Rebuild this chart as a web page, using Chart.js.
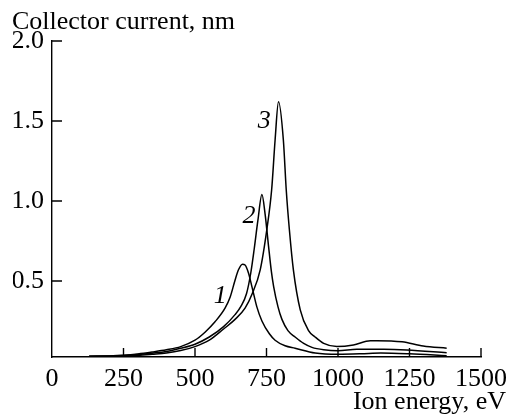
<!DOCTYPE html>
<html>
<head>
<meta charset="utf-8">
<script src="https://cdn.jsdelivr.net/npm/chart.js@4"></script>
<style>
  body { margin: 0; background: #fff; }
</style>
</head>
<body>
<canvas id="chart" width="509" height="418"></canvas>
<script>

// values (ion energy in eV, collector current in nm)
const energy1 = [130,200,250,300,350,400,450,500,535,570,605,623,640,652,666,675,687,699,716,734,760,780,815,850,920,1000,1080,1150,1250,1380]
const current1 = [.03,.032,.036,.044,.056,.07,.09,.13,.18,.245,.33,.40,.505,.57,.605,.60,.55,.465,.34,.25,.17,.13,.095,.08,.05,.042,.045,.05,.045,.033]

const energy2 = [130,200,250,300,350,400,450,500,550,600,640,660,680,695,707,720,734,745,757,767,775,790,804,825,850,880,909,950,1000,1066,1160,1240,1380]
const current2 = [.029,.031,.034,.04,.049,.06,.08,.105,.15,.215,.29,.34,.42,.55,.70,.88,1.04,.92,.72,.56,.465,.34,.26,.19,.15,.11,.085,.07,.064,.073,.073,.069,.052]

const energy3 = [130,200,250,300,350,400,450,500,550,600,640,675,700,728,751,768,780,792,809,819,830,844,868,897,920,950,996,1054,1113,1136,1224,1298,1380]
const current3 = [.028,.029,.031,.035,.042,.05,.065,.09,.13,.20,.26,.33,.42,.57,.82,1.07,1.38,1.62,1.38,1.07,.82,.57,.32,.19,.15,.11,.09,.10,.127,.127,.12,.094,.08]

const xTicks = [0,250,500,750,1000,1250,1500]
const yTicks = [0.5,1.0,1.5,2.0]

// curve numbers written next to the peaks
const curveLabels = ['1','2','3']
const labelEnergy = [588,689,742]
const labelCurrent = [0.406,0.906,1.5]

const serif = '"Liberation Serif", "Times New Roman", serif'

function toPoints(xs, ys) {
  return xs.map((x, i) => ({x: x, y: ys[i]}))
}

function curve(xs, ys) {
  return {
    data: toPoints(xs, ys),
    borderColor: '#000',
    borderWidth: 1.5,
    pointRadius: 0,
    fill: false,
    cubicInterpolationMode: 'monotone'
  }
}

// inward tick marks, curve numbers and the two axis captions
const extras = {
  id: 'extras',
  afterDraw(chart) {
    const ctx = chart.ctx
    const xs = chart.scales.x
    const ys = chart.scales.y
    const area = chart.chartArea
    ctx.save()
    ctx.strokeStyle = '#000'
    ctx.lineWidth = 1.4
    ctx.beginPath()
    xTicks.forEach(v => {
      if (v === 0) return
      const px = xs.getPixelForValue(v)
      ctx.moveTo(px, area.bottom)
      ctx.lineTo(px, area.bottom - 9)
    })
    yTicks.forEach(v => {
      const py = ys.getPixelForValue(v)
      ctx.moveTo(area.left, py)
      ctx.lineTo(area.left + 10, py)
    })
    ctx.stroke()

    ctx.fillStyle = '#000'
    ctx.font = 'italic 26px ' + serif
    ctx.textAlign = 'center'
    ctx.textBaseline = 'middle'
    curveLabels.forEach((t, i) => {
      ctx.fillText(t, xs.getPixelForValue(labelEnergy[i]), ys.getPixelForValue(labelCurrent[i]))
    })

    ctx.font = '26px ' + serif
    ctx.textBaseline = 'alphabetic'
    ctx.textAlign = 'left'
    ctx.fillText('Collector current, nm', 12, 29)
    ctx.textAlign = 'right'
    ctx.fillText('Ion energy, eV', 506, 409)
    ctx.restore()
  }
}

new Chart(document.getElementById('chart'), {
  type: 'line',
  data: {
    datasets: [curve(energy1, current1), curve(energy2, current2), curve(energy3, current3)]
  },
  options: {
    responsive: false,
    animation: false,
    layout: { padding: { left: 13, top: 41, right: 28, bottom: 18 } },
    plugins: { legend: { display: false }, tooltip: { enabled: false } },
    scales: {
      x: {
        type: 'linear',
        min: 0,
        max: 1500,
        afterBuildTicks: s => { s.ticks = xTicks.map(v => ({value: v})) },
        afterFit: s => { s.height = 43; s.paddingLeft = 0; s.paddingRight = 0 },
        ticks: { color: '#000', padding: 7, maxRotation: 0, font: { family: serif, size: 26 }, callback: v => String(v) },
        grid: { drawOnChartArea: false, drawTicks: false },
        border: { color: '#000', width: 1.4 }
      },
      y: {
        min: 0.025,
        max: 2.0,
        afterBuildTicks: s => { s.ticks = yTicks.map(v => ({value: v})) },
        afterFit: s => { s.width = 39; s.paddingTop = 0; s.paddingBottom = 0 },
        ticks: { color: '#000', padding: 8, font: { family: serif, size: 26 }, callback: v => v.toFixed(1) },
        grid: { drawOnChartArea: false, drawTicks: false },
        border: { color: '#000', width: 1.4 }
      }
    }
  },
  plugins: [extras]
})

</script>
</body>
</html>
